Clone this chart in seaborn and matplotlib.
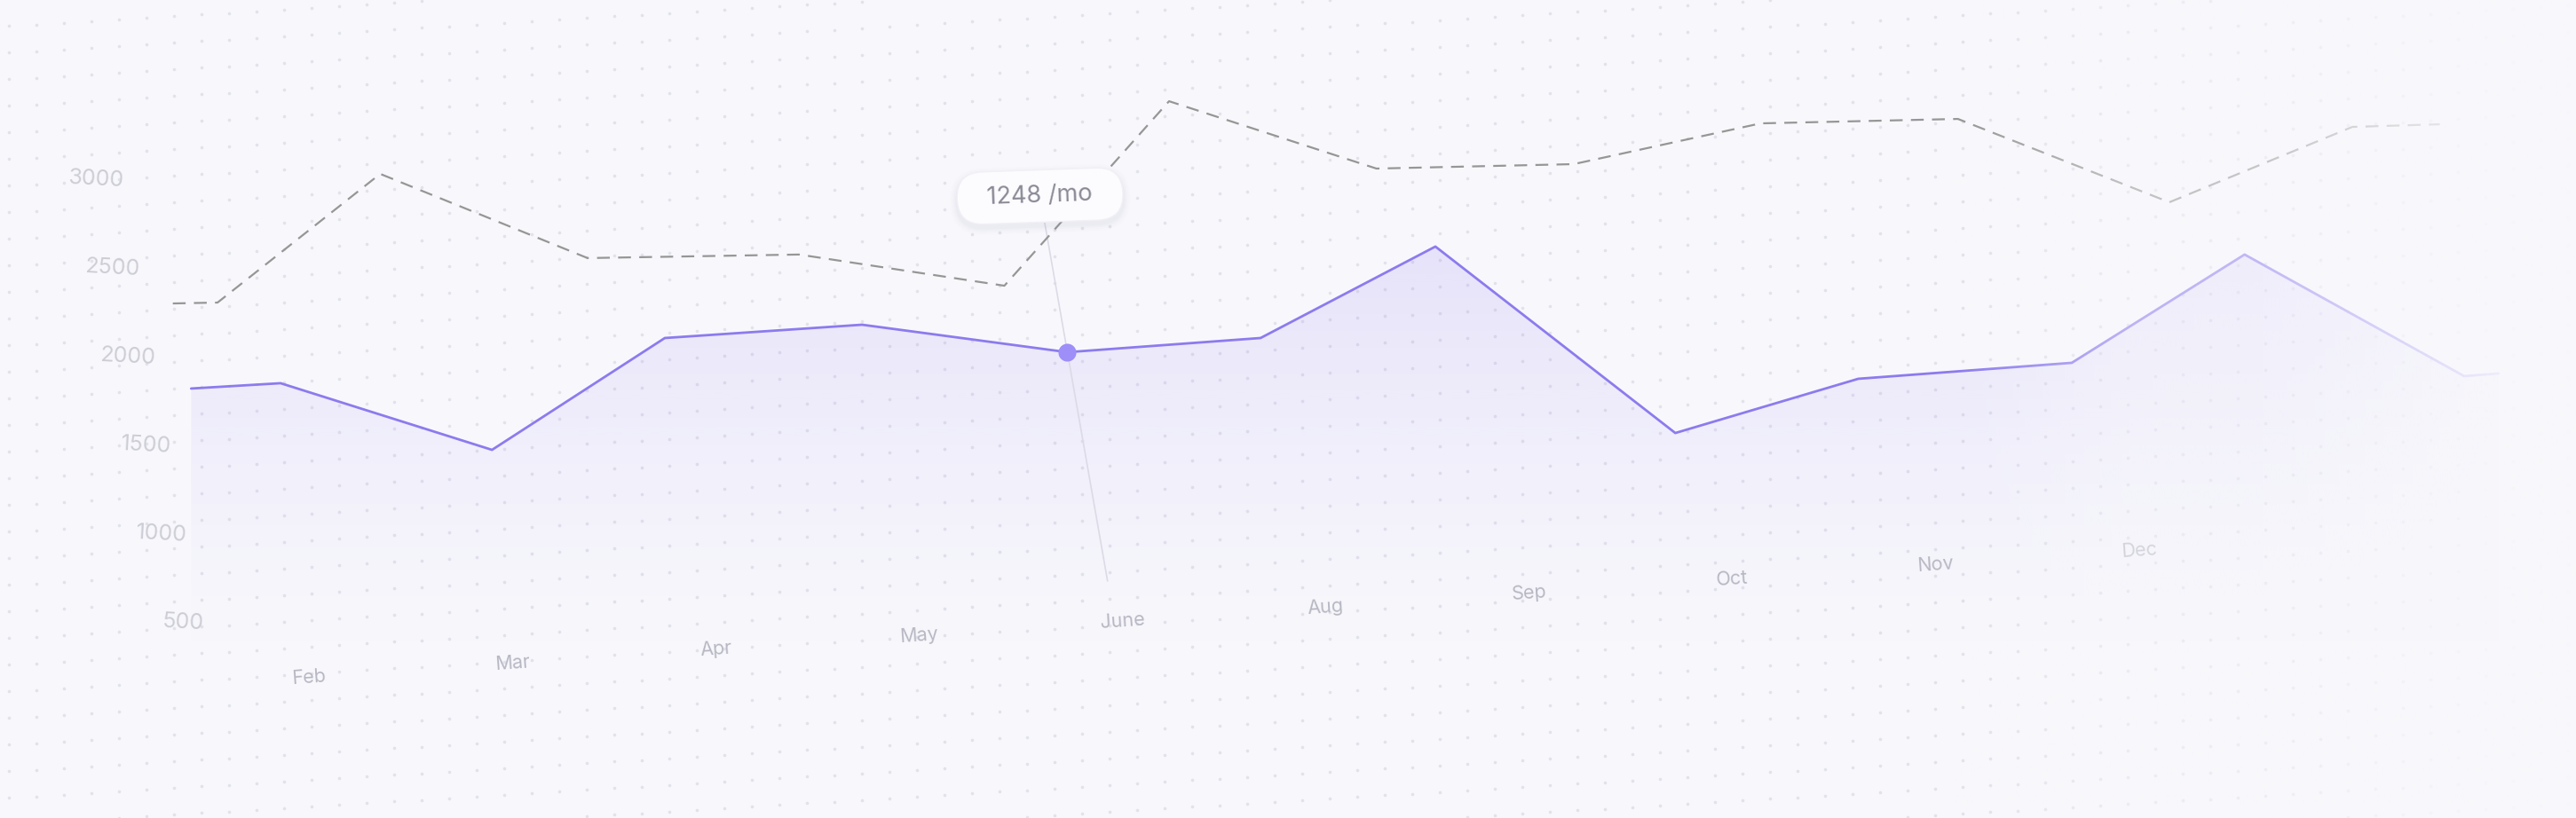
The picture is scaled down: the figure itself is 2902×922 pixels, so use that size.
import numpy as np
import pandas as pd
import matplotlib
matplotlib.use("Agg")
import matplotlib.pyplot as plt
import matplotlib.transforms as mtransforms
from matplotlib.patches import FancyBboxPatch
from matplotlib.colors import to_rgb
import seaborn as sns

# ---------------- data ----------------
months = ["Feb", "Mar", "Apr", "May", "June", "Aug", "Sep", "Oct", "Nov", "Dec"]
month_pos = [1, 2, 3, 4, 5, 6, 7, 8, 9, 10]
y_ticks = [500, 1000, 1500, 2000, 2500, 3000]

current_x = [0.42, 0.86, 1.90, 2.75, 3.72, 4.73, 5.68, 6.54, 7.72, 8.62, 9.67, 10.52, 11.60, 11.77]
current_y = [1819, 1849, 1473, 2104, 2179, 2024, 2104, 2620, 1568, 1874, 1964, 2575, 1889, 1904]
previous_x = [0.33, 0.55, 1.35, 2.37, 3.41, 4.42, 5.23, 6.25, 7.22, 8.14, 9.11, 10.15, 11.05, 11.48]
previous_y = [2299, 2304, 3030, 2555, 2575, 2399, 3440, 3060, 3085, 3315, 3340, 2870, 3295, 3310]
highlight_index = 5
tooltip_text = "1248 /mo"

# ---------------- style ----------------
BG = "#f8f8fc"
PURPLE = "#8c7bee"
DOT = "#9d8ef8"
DASH = "#969696"
YLAB = "#cdcdd6"
XLAB = "#b8b8c4"

sns.set_style("white")
plt.rcParams["font.family"] = ["Inter", "DejaVu Sans"]

W, H = 2902, 922
fig = plt.figure(figsize=(W / 100, H / 100), dpi=100)
fig.patch.set_facecolor(BG)
ax = fig.add_axes([0, 0, 1, 1])
ax.set_facecolor(BG)
XLIM = (-0.52, 12.15)
YLIM = (-604, 4011)

# dotted background grid (decorative)
gx, gy = np.meshgrid(np.arange(10, W, 31), np.arange(-300, H + 200, 30))
gy = gy - 0.06 * gx
m = (gy > 0) & (gy < H)
ax.scatter(gx[m] / W, 1 - gy[m] / H, transform=ax.transAxes, s=7,
           color="#e2e2eb", linewidths=0, zorder=0)

# gradient fill under the current series
FILL_BASE = 250
poly = ax.fill_between(current_x, current_y, FILL_BASE, color="none", lw=0)
grad = np.zeros((256, 1, 4))
grad[..., :3] = to_rgb("#8a72f0")
grad[:, 0, 3] = np.linspace(0, 1, 256) ** 1.3 * 0.17
im = ax.imshow(grad, extent=[min(current_x), max(current_x), FILL_BASE, 2700],
               origin="lower", aspect="auto", zorder=1, interpolation="bilinear")
im.set_clip_path(poly.get_paths()[0], transform=ax.transData)

# lines
df_prev = pd.DataFrame({"x": previous_x, "y": previous_y})
df_cur = pd.DataFrame({"x": current_x, "y": current_y})
sns.lineplot(data=df_prev, x="x", y="y", ax=ax, sort=False, estimator=None,
             color=DASH, lw=1.6, linestyle=(0, (6.5, 4.2)),
             dash_joinstyle="round", dash_capstyle="butt", zorder=3)
sns.lineplot(data=df_cur, x="x", y="y", ax=ax, sort=False, estimator=None,
             color=PURPLE, lw=2.0, solid_joinstyle="round", zorder=4)

# highlight guide line + dot
hx, hv = current_x[highlight_index], current_y[highlight_index]
guide_top, guide_bottom = 2760, 733
lean = 0.000153
ax.plot([hx + (hv - guide_top) * lean, hx + (hv - guide_bottom) * lean],
        [guide_top, guide_bottom], color="#dcdae6", lw=1.2, zorder=2)
ax.scatter([hx], [hv], s=210, color=DOT, linewidths=0, zorder=6)

# tooltip
tip_x = hx + (hv - 2905) * lean
tip_v = 2905
base_t = fig.dpi_scale_trans + mtransforms.ScaledTranslation(tip_x, tip_v, ax.transData)
rot = mtransforms.Affine2D().rotate_deg(2)
for i, a in enumerate([0.035, 0.03, 0.025, 0.02]):
    g = 0.02 * (i + 1)
    sh = FancyBboxPatch((-0.935 - g, -0.295 - g - 0.04), 1.87 + 2 * g, 0.59 + 2 * g,
                        boxstyle="round,pad=0,rounding_size=%.3f" % (0.295 + g),
                        transform=rot + base_t, fc="#9090b8", ec="none", alpha=a, zorder=7)
    ax.add_patch(sh)
box = FancyBboxPatch((-0.935, -0.295), 1.87, 0.59,
                     boxstyle="round,pad=0,rounding_size=0.295",
                     transform=rot + base_t, fc="#fcfcfe", ec="#f0f0f5", lw=1, zorder=8)
ax.add_patch(box)
ax.text(tip_x, tip_v, tooltip_text, ha="center", va="center", fontsize=19.5,
        color="#8a8a96", rotation=2, zorder=9)

# y tick labels (tilted axis)
for v in y_ticks:
    lx = 0.092 + (3000 - v) / 500 * 0.078
    ax.text(lx, v, str(v), ha="right", va="center", fontsize=18, color=YLAB,
            rotation=-3, zorder=5)

# x tick labels (tilted baseline)
for lab, p in zip(months, month_pos):
    lv = 187 + (p - 1) * 79.6
    ax.text(p, lv, lab, ha="center", va="center", fontsize=15.5, color=XLAB,
            rotation=4, zorder=5)

# right-side fade
xs = np.linspace(0, W, 600)
fade = np.zeros((1, 600, 4))
fade[..., :3] = to_rgb(BG)
fade[0, :, 3] = np.interp(xs, [0, 2200, 2400, 2550, 2700, 2820, W],
                          [0, 0, 0.45, 0.5, 0.72, 0.92, 1.0])
ax.imshow(fade, extent=[0, 1, 0, 1], transform=ax.transAxes, aspect="auto",
          zorder=20, interpolation="bilinear")

ax.set_xlim(*XLIM)
ax.set_ylim(*YLIM)
ax.axis("off")
fig.savefig("out.png", dpi=100, facecolor=BG)
